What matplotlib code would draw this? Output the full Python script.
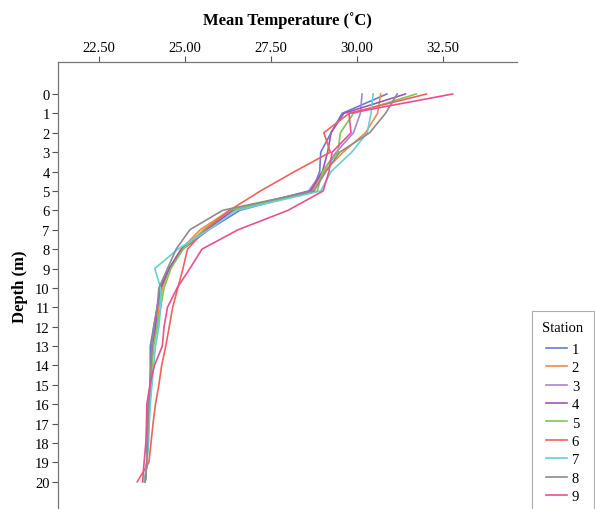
import matplotlib
matplotlib.use("Agg")
import matplotlib.pyplot as plt
from matplotlib.lines import Line2D

plt.rcParams['font.family'] = ['Liberation Serif', 'DejaVu Serif']

depths = list(range(0, 21))

station_labels = ["1", "2", "3", "4", "5", "6", "7", "8", "9"]
station_colors = ["#6b7bd0", "#f58a45", "#a884d8", "#9e55b8", "#84c550",
                  "#f0625e", "#66cfd8", "#8c8c8c", "#ea4f92"]

s1 = [30.87, 29.57, 29.25, 28.95, 28.92, 28.70, 26.60, 25.70, 24.95, 24.55, 24.30,
      24.20, 24.10, 24.00, 24.00, 24.00, 23.95, 23.93, 23.92, 23.90, 23.85]
s2 = [30.69, 30.60, 30.25, 29.60, 29.05, 28.70, 26.30, 25.45, 24.90, 24.55, 24.35,
      24.25, 24.20, 24.05, 24.05, 24.00, 23.97, 23.95, 23.93, 23.90, 23.85]
s3 = [30.15, 30.10, 29.90, 29.40, 29.00, 28.60, 26.40, 25.60, 24.90, 24.55, 24.30,
      24.20, 24.15, 24.05, 24.02, 24.00, 23.95, 23.93, 23.92, 23.90, 23.85]
s4 = [31.41, 29.62, 29.25, 29.15, 29.00, 28.65, 26.40, 25.65, 24.90, 24.55, 24.30,
      24.20, 24.15, 24.05, 24.02, 24.00, 23.95, 23.93, 23.92, 23.90, 23.85]
s5 = [31.72, 29.90, 29.52, 29.45, 29.00, 28.85, 26.30, 25.55, 24.95, 24.60, 24.40,
      24.30, 24.20, 24.10, 24.05, 24.02, 23.97, 23.95, 23.93, 23.90, 23.85]
s6 = [32.02, 29.77, 29.04, 29.23, 28.19, 27.20, 26.30, 25.60, 25.08, 24.95, 24.80,
      24.65, 24.55, 24.45, 24.33, 24.25, 24.15, 24.08, 24.02, 23.96, 23.62]
s7 = [30.47, 30.41, 30.30, 29.85, 29.25, 28.95, 26.50, 25.70, 24.80, 24.13, 24.30,
      24.30, 24.25, 24.15, 24.10, 24.05, 24.00, 23.97, 23.95, 23.90, 23.83]
s8 = [31.17, 30.83, 30.37, 29.50, 29.10, 28.75, 26.10, 25.15, 24.75, 24.50, 24.25,
      24.20, 24.10, 24.05, 24.02, 24.00, 23.95, 23.93, 23.92, 23.90, 23.85]
s9 = [32.78, 29.77, 29.83, 29.28, 29.19, 29.02, 28.00, 26.55, 25.50, 25.15, 24.78,
      24.50, 24.40, 24.35, 24.12, 23.99, 23.90, 23.89, 23.87, 23.82, 23.78]
series = [s1, s2, s3, s4, s5, s6, s7, s8, s9]

x_ticks = [22.5, 25.0, 27.5, 30.0, 32.5]
x_tick_labels = ["22.50", "25.00", "27.50", "30.00", "32.50"]

fig = plt.figure(figsize=(5.95, 5.10), dpi=100)
ax = fig.add_axes([58 / 595, 0.0, (517 - 58) / 595, 1 - 63 / 510])

for vals, col, lab in zip(series, station_colors, station_labels):
    ax.plot(vals, depths, color=col, lw=1.2, label=lab)

ax.set_xlim(21.32, 34.65)
ax.set_ylim(21.4, -1.65)
ax.xaxis.tick_top()
ax.xaxis.set_label_position('top')
ax.set_xticks(x_ticks)
ax.set_xticklabels(x_tick_labels)
ax.set_yticks(depths)
ax.set_yticklabels([str(d) for d in depths])
ax.tick_params(axis='both', labelsize=10.5, length=4, width=0.8, color='#555555', pad=2)

for side in ['right', 'bottom']:
    ax.spines[side].set_visible(False)
for side in ['left', 'top']:
    ax.spines[side].set_color('#777777')
    ax.spines[side].set_linewidth(0.9)

ax.set_xlabel("Mean Temperature (˚C)", fontsize=12, fontweight='bold', labelpad=12)
ax.set_ylabel("Depth (m)", fontsize=12, fontweight='bold', labelpad=5)

handles = [Line2D([0], [0], color=c, lw=1.2) for c in station_colors]
leg = fig.legend(handles, station_labels, title="Station",
                 loc='upper left', bbox_to_anchor=(532 / 595, 1 - 312 / 510),
                 fontsize=10.5, title_fontsize=10.5, frameon=True, fancybox=False,
                 edgecolor='#999999', handlelength=1.45, handletextpad=0.3,
                 labelspacing=0.36, borderpad=0.7, borderaxespad=0)
leg.get_frame().set_linewidth(0.8)
leg._legend_box.sep = 6

fig.savefig("out.png", dpi=100)
